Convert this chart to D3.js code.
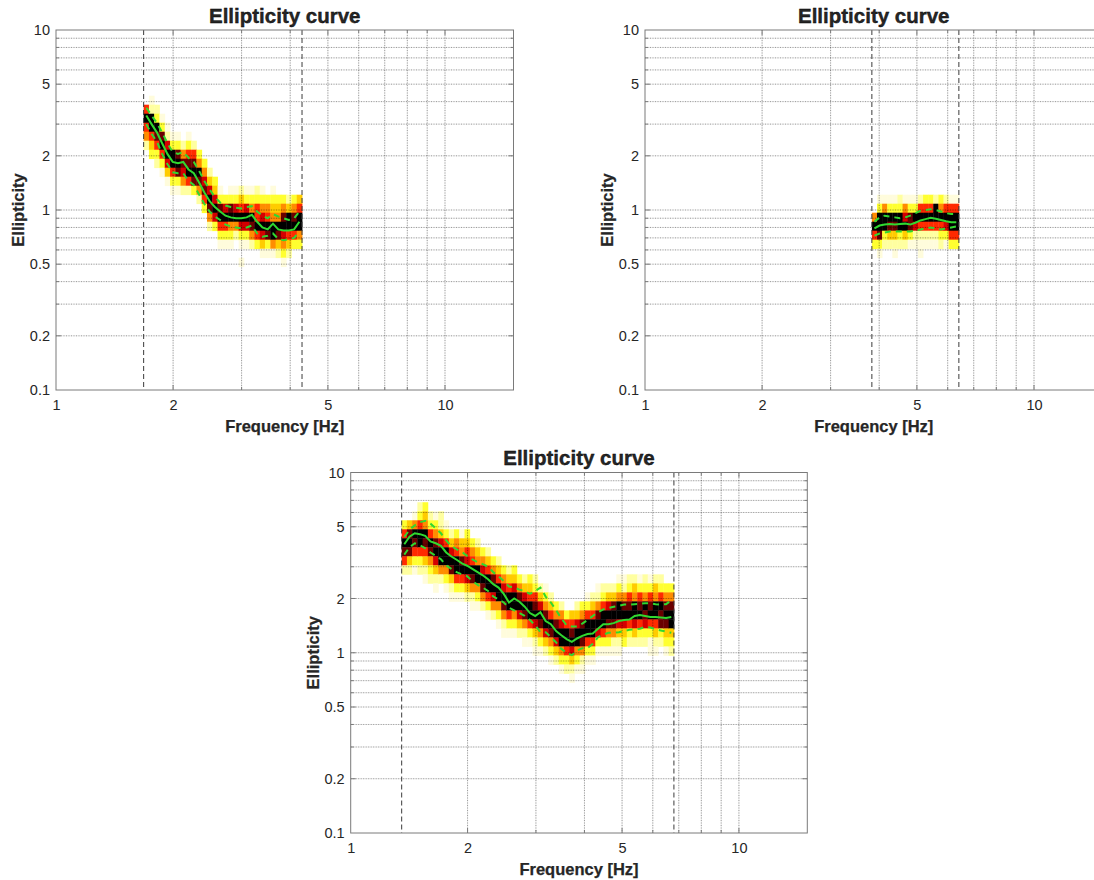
<!DOCTYPE html>
<html>
<head>
<meta charset="utf-8">
<script src="https://cdn.jsdelivr.net/npm/d3@7"></script>
<style>
  body { margin: 0; background: #ffffff; }
  svg { display: block; }
  text { font-family: "Liberation Sans", Arial, Helvetica, sans-serif; fill: #262626; }
</style>
</head>
<body>
<svg id="chart" width="1094" height="880"></svg>
<script>
// ---- axes ----
const freqDomain = [1, 15];
const ellipDomain = [0.1, 10];
const freqTicks = [1, 2, 5, 10];
const ellipTicks = [0.1, 0.2, 0.5, 1, 2, 5, 10];
const titleText = "Ellipticity curve";
const xLabelText = "Frequency [Hz]";
const yLabelText = "Ellipticity";

// ---- ellipticity histogram bins (log10 units) ----
const ellipBinLog = 0.05;
const ellipBinOriginLog = 0.035;

// ---- station A ----
const aBand = [1.68, 4.29];
const aTopBin = [10, 11, 10, 9, 8, 7, 7, 6, 7, 6, 5, 4, 3, 2, 1, 0, 1, 1, 1, 1, 1, 1, 1, 0, 1, 0, 0, 0, 0, 0];
const aCounts = ["69652", "1299643", "2398632", "1389631", "1279741", "1399631", "1389831", "258752",
  "1368962", "268983", "359852", "357863", "2479852", "347973", "1389631", "379631", "1389531",
  "137952", "246973101", "1379731", "1359852", "2366963", "13579741", "3569831", "13459951",
  "3459842", "35897531", "2499642", "358963", "469953"];
const aMedian = [3.35, 3.0, 2.7, 2.35, 2.05, 1.85, 1.82, 1.85, 1.68, 1.6, 1.42, 1.25, 1.12, 1.04, 0.98,
  0.93, 0.91, 0.90, 0.90, 0.91, 0.94, 0.86, 0.80, 0.78, 0.84, 0.78, 0.77, 0.77, 0.78, 0.86];
const aUpper = [3.7, 3.35, 3.05, 2.7, 2.35, 2.1, 2.05, 2.1, 1.95, 1.85, 1.65, 1.45, 1.3, 1.18, 1.1,
  1.06, 1.04, 1.03, 1.02, 1.04, 1.05, 0.98, 0.93, 0.9, 0.95, 0.92, 0.9, 0.88, 0.9, 0.98];
const aLower = [3.0, 2.65, 2.4, 2.05, 1.8, 1.62, 1.6, 1.6, 1.45, 1.38, 1.22, 1.08, 0.98, 0.92, 0.88,
  0.83, 0.81, 0.80, 0.79, 0.80, 0.82, 0.74, 0.71, 0.72, 0.74, 0.69, 0.68, 0.69, 0.70, 0.76];

// ---- station B ----
const bBand = [3.83, 6.41];
const bTopBin = [-1, 0, 0, 0, 0, 0, 0, 0, 0, 0, 0, 0, 0, 0, 0, 0, 0];
const bCounts = ["05963", "1399831", "159932", "139842", "1398421", "239932", "157942", "138831",
  "139721", "2696211", "369621", "369621", "299621", "359632", "269731", "169963", "169963"];
const bMedian = [0.79, 0.82, 0.83, 0.835, 0.83, 0.835, 0.84, 0.83, 0.85, 0.875, 0.89, 0.905, 0.895,
  0.88, 0.865, 0.855, 0.855];
const bUpper = [0.86, 0.91, 0.93, 0.92, 0.91, 0.90, 0.91, 0.93, 0.96, 0.99, 1.0, 1.01, 1.0, 0.98,
  0.96, 0.95, 0.95];
const bLower = [0.72, 0.74, 0.75, 0.76, 0.76, 0.76, 0.76, 0.76, 0.77, 0.78, 0.79, 0.80, 0.79, 0.78,
  0.79, 0.80, 0.81];

// ---- station C ----
const cBand = [1.353, 6.80];
const cTopBin = [13, 13, 14, 15, 15, 14, 14, 14, 13, 12, 12, 12, 12, 11, 11, 10, 10, 9, 9, 8, 8, 8,
  7, 7, 7, 7, 6, 6, 5, 4, 4, 3, 3, 4, 4, 5, 5, 6, 6, 6, 6, 7, 7, 7, 7, 7, 7, 7, 7, 7, 6, 6];
const cCounts = ["369862", "489842", "1598631", "23699632", "345986421", "23698532", "135897421",
  "22479952", "13699531", "24798421", "35699631", "14589631", "34679742", "35698521", "24599531",
  "3579852", "24699631", "3589752", "24699531", "35798521", "24699631", "34799531", "3589742",
  "24798521", "34699631", "236897421", "24798531", "13589742", "24698531", "3589742", "25799531",
  "3699632", "46897421", "24799531", "35898521", "13699631", "24699631", "12589731", "23699631",
  "24798531", "24898521", "135997421", "12589743", "23689632", "24599742", "13689632", "23598732",
  "136896311", "245996421", "23698832", "35898431", "35899432"];
const cMedian = [4.0, 4.4, 4.6, 4.55, 4.45, 4.15, 4.05, 3.92, 3.6, 3.42, 3.28, 3.13, 3.04, 2.92, 2.8,
  2.69, 2.56, 2.4, 2.3, 2.12, 1.9, 2.0, 1.92, 1.8, 1.66, 1.6, 1.68, 1.5, 1.44, 1.32, 1.25, 1.19, 1.15,
  1.2, 1.24, 1.27, 1.28, 1.36, 1.44, 1.44, 1.46, 1.5, 1.52, 1.53, 1.6, 1.62, 1.6, 1.58, 1.58, 1.57,
  1.56, 1.58];
const cUpper = [4.4, 4.8, 5.1, 5.3, 5.4, 5.2, 4.9, 4.6, 4.2, 3.9, 3.75, 3.62, 3.45, 3.3, 3.18, 3.1,
  3.0, 2.8, 2.65, 2.5, 2.33, 2.3, 2.24, 2.2, 2.12, 2.2, 2.3, 2.05, 1.9, 1.72, 1.55, 1.42, 1.4, 1.4,
  1.45, 1.52, 1.6, 1.68, 1.74, 1.77, 1.8, 1.82, 1.85, 1.85, 1.86, 1.87, 1.88, 1.88, 1.86, 1.85, 1.86,
  1.95];
const cLower = [3.5, 3.85, 4.05, 3.95, 3.8, 3.6, 3.45, 3.3, 3.05, 2.92, 2.8, 2.72, 2.66, 2.5, 2.38,
  2.3, 2.2, 2.05, 1.98, 1.9, 1.78, 1.72, 1.66, 1.6, 1.52, 1.42, 1.3, 1.3, 1.22, 1.14, 1.05, 1.0, 0.97,
  1.03, 1.06, 1.06, 1.12, 1.22, 1.26, 1.29, 1.29, 1.3, 1.32, 1.34, 1.35, 1.36, 1.39, 1.38, 1.35, 1.33,
  1.31, 1.29];

// ---- styling ----
// count level (1..9) -> inverted "hot" colour ramp, white for empty
const heatColors = ["#ffffff", "#fffcdc", "#ffffa0", "#ffff30", "#ffcc00", "#ff8c00",
  "#ff2a00", "#d40000", "#6a0000", "#000000"];
const curveColor = "#30d830";
const axisColor = "#7a7a7a";

const svg = d3.select("#chart");

const layouts = [
  { left: 56, top: 30, width: 457.5, height: 360 },
  { left: 645, top: 30, width: 457.5, height: 360 },
  { left: 350.7, top: 472.5, width: 456.6, height: 360.5 }
];

const stations = [
  { band: aBand, top: aTopBin, counts: aCounts, median: aMedian, upper: aUpper, lower: aLower },
  { band: bBand, top: bTopBin, counts: bCounts, median: bMedian, upper: bUpper, lower: bLower },
  { band: cBand, top: cTopBin, counts: cCounts, median: cMedian, upper: cUpper, lower: cLower }
];

// grid positions for the log axes (every integer multiple within each decade)
function logGrid(lo, hi) {
  const out = [];
  for (let p = Math.floor(Math.log10(lo)); p <= Math.ceil(Math.log10(hi)); p++) {
    for (let m = 1; m <= 9; m++) {
      const v = m * Math.pow(10, p);
      if (v > lo * 1.0001 && v < hi * 0.9999) out.push(+v.toPrecision(6));
    }
  }
  return out;
}

function drawPanel(box, st, idx) {
  const x = d3.scaleLog().domain(freqDomain).range([box.left, box.left + box.width]);
  const y = d3.scaleLog().domain(ellipDomain).range([box.top + box.height, box.top]);
  const g = svg.append("g");
  const x0 = box.left, x1 = box.left + box.width, y0 = box.top, y1 = box.top + box.height;

  const clipId = "clip" + idx;
  g.append("clipPath").attr("id", clipId).append("rect")
    .attr("x", x0).attr("y", y0).attr("width", box.width).attr("height", box.height);
  const plot = g.append("g").attr("clip-path", `url(#${clipId})`);

  // histogram of ellipticity per frequency column
  const N = st.counts.length;
  const [fLo, fHi] = st.band;
  const fEdge = c => fLo * Math.pow(fHi / fLo, c / N);
  const cells = [];
  st.counts.forEach((str, c) => {
    [...str].forEach((ch, k) => {
      const lev = +ch;
      if (!lev) return;
      const r = st.top[c] - k;
      cells.push({
        f0: fEdge(c), f1: fEdge(c + 1),
        e0: Math.pow(10, ellipBinOriginLog + r * ellipBinLog),
        e1: Math.pow(10, ellipBinOriginLog + (r + 1) * ellipBinLog),
        lev
      });
    });
  });
  plot.append("g").selectAll("rect").data(cells).join("rect")
    .attr("x", d => x(d.f0))
    .attr("width", d => x(d.f1) - x(d.f0) + 0.4)
    .attr("y", d => y(d.e1))
    .attr("height", d => y(d.e0) - y(d.e1) + 0.4)
    .attr("fill", d => heatColors[d.lev]);

  // grid (drawn over the histogram)
  const xg = logGrid(freqDomain[0], freqDomain[1]);
  const yg = logGrid(ellipDomain[0], ellipDomain[1]);
  const grid = plot.append("g");
  grid.selectAll(".vs").data(xg).join("line")
    .attr("x1", d => x(d)).attr("x2", d => x(d)).attr("y1", y0).attr("y2", y1)
    .attr("stroke", "rgba(0,0,0,0.09)").attr("stroke-width", 1);
  grid.selectAll(".hs").data(yg).join("line")
    .attr("y1", d => y(d)).attr("y2", d => y(d)).attr("x1", x0).attr("x2", x1)
    .attr("stroke", "rgba(0,0,0,0.09)").attr("stroke-width", 1);
  grid.selectAll(".vd").data(xg).join("line")
    .attr("x1", d => x(d)).attr("x2", d => x(d)).attr("y1", y0).attr("y2", y1)
    .attr("stroke", "rgba(0,0,0,0.34)").attr("stroke-width", 1).attr("stroke-dasharray", "1,1.5");
  grid.selectAll(".hd").data(yg).join("line")
    .attr("y1", d => y(d)).attr("y2", d => y(d)).attr("x1", x0).attr("x2", x1)
    .attr("stroke", "rgba(0,0,0,0.34)").attr("stroke-width", 1).attr("stroke-dasharray", "1,1.5");

  // frequency band limits
  plot.append("g").selectAll("line").data(st.band).join("line")
    .attr("x1", d => x(d)).attr("x2", d => x(d)).attr("y1", y0).attr("y2", y1)
    .attr("stroke", "#3a3a3a").attr("stroke-width", 1).attr("stroke-dasharray", "5,3");

  // median and spread curves at column centres
  const fMid = c => fLo * Math.pow(fHi / fLo, (c + 0.5) / N);
  const line = d3.line().x((d, i) => x(fMid(i))).y(d => y(d));
  plot.append("path").attr("d", line(st.upper)).attr("fill", "none")
    .attr("stroke", curveColor).attr("stroke-width", 2).attr("stroke-dasharray", "6,5");
  plot.append("path").attr("d", line(st.lower)).attr("fill", "none")
    .attr("stroke", curveColor).attr("stroke-width", 2).attr("stroke-dasharray", "6,5");
  plot.append("path").attr("d", line(st.median)).attr("fill", "none")
    .attr("stroke", curveColor).attr("stroke-width", 2);

  // inward tick marks on all four sides
  const ticks = g.append("g").attr("stroke", axisColor).attr("stroke-width", 1);
  const xMaj = new Set(freqTicks), yMaj = new Set(ellipTicks);
  xg.forEach(v => {
    const L = xMaj.has(v) ? 5 : 3;
    ticks.append("line").attr("x1", x(v)).attr("x2", x(v)).attr("y1", y1).attr("y2", y1 - L);
    ticks.append("line").attr("x1", x(v)).attr("x2", x(v)).attr("y1", y0).attr("y2", y0 + L);
  });
  yg.forEach(v => {
    const L = yMaj.has(v) ? 5 : 3;
    ticks.append("line").attr("y1", y(v)).attr("y2", y(v)).attr("x1", x0).attr("x2", x0 + L);
    ticks.append("line").attr("y1", y(v)).attr("y2", y(v)).attr("x1", x1).attr("x2", x1 - L);
  });

  // axes box
  g.append("rect").attr("x", x0).attr("y", y0).attr("width", box.width).attr("height", box.height)
    .attr("fill", "none").attr("stroke", axisColor).attr("stroke-width", 1);

  // tick labels
  const xAxis = d3.axisBottom(x).tickValues(freqTicks).tickFormat(d3.format("~g"))
    .tickSize(0).tickPadding(9.5);
  const xa = g.append("g").attr("transform", `translate(0,${y1})`).call(xAxis);
  xa.select(".domain").remove();
  xa.selectAll("text").attr("font-size", 14.5).attr("fill", "#262626")
    .style("font-family", "'Liberation Sans', Arial, sans-serif");

  const yAxis = d3.axisLeft(y).tickValues(ellipTicks).tickFormat(d3.format("~g"))
    .tickSize(0).tickPadding(6);
  const ya = g.append("g").attr("transform", `translate(${x0},0)`).call(yAxis);
  ya.select(".domain").remove();
  ya.selectAll("text").attr("font-size", 14.5).attr("fill", "#262626")
    .style("font-family", "'Liberation Sans', Arial, sans-serif");

  // titles
  const cx = (x0 + x1) / 2;
  g.append("text").attr("x", cx).attr("y", y0 - 7.5).attr("text-anchor", "middle")
    .attr("font-size", 20.5).attr("font-weight", "bold").attr("fill", "#000")
    .attr("stroke", "#000").attr("stroke-width", 0.35).text(titleText);
  g.append("text").attr("x", cx).attr("y", y1 + 41.5).attr("text-anchor", "middle")
    .attr("font-size", 16.5).attr("font-weight", "bold")
    .attr("stroke", "#262626").attr("stroke-width", 0.25).text(xLabelText);
  g.append("text").attr("transform", `translate(${x0 - 32},${(y0 + y1) / 2}) rotate(-90)`)
    .attr("text-anchor", "middle").attr("font-size", 16.5).attr("font-weight", "bold")
    .attr("stroke", "#262626").attr("stroke-width", 0.25).text(yLabelText);
}

layouts.forEach((box, i) => drawPanel(box, stations[i], i));
</script>
</body>
</html>
